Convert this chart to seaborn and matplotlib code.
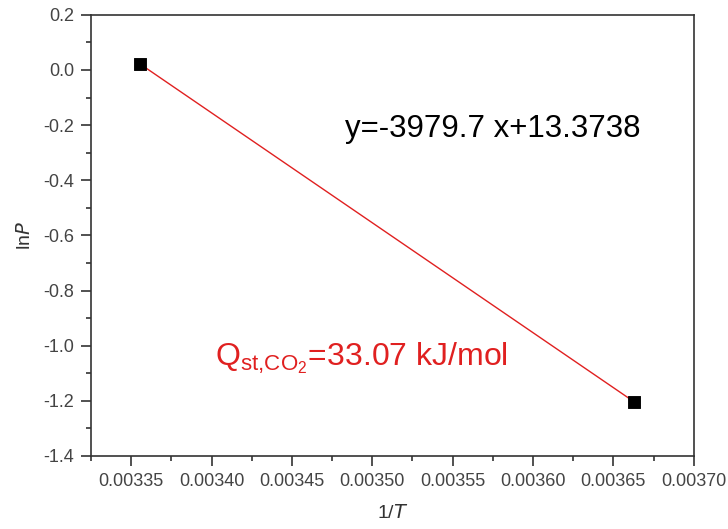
import matplotlib
matplotlib.use("Agg")
import matplotlib.pyplot as plt
import seaborn as sns
import pandas as pd
from matplotlib.ticker import MultipleLocator, FormatStrFormatter

inv_T = [0.0033557, 0.0036630]
ln_P = [0.021, -1.204]
fit_text = "y=-3979.7 x+13.3738"
q_text = r"Q$_{\mathregular{st{,}CO_2}}$=33.07 kJ/mol"

df = pd.DataFrame({"x": inv_T, "y": ln_P})

sns.set_theme(style="white")
plt.rcParams['font.family'] = ['Liberation Sans', 'DejaVu Sans']

fig = plt.figure(figsize=(7.28, 5.29), dpi=100)
ax = fig.add_axes([0.125, 0.138, 0.828, 0.834])

sns.lineplot(data=df, x="x", y="y", color="#e02020", linewidth=1.0, ax=ax)
sns.scatterplot(data=df, x="x", y="y", marker="s", color="black", s=65,
                edgecolor="black", ax=ax, zorder=5)

ax.set_xlim(0.003325, 0.0037)
ax.set_ylim(-1.4, 0.2)
ax.xaxis.set_major_locator(MultipleLocator(0.00005))
ax.xaxis.set_minor_locator(MultipleLocator(0.000025))
ax.yaxis.set_major_locator(MultipleLocator(0.2))
ax.yaxis.set_minor_locator(MultipleLocator(0.1))
ax.xaxis.set_major_formatter(FormatStrFormatter('%.5f'))
ax.yaxis.set_major_formatter(FormatStrFormatter('%.1f'))

for s in ax.spines.values():
    s.set_color("#333333")
    s.set_linewidth(1.2)

ax.tick_params(axis='both', which='major', direction='out', length=7, width=1.2,
               color="#333333", labelsize=13, labelcolor="#444444",
               bottom=True, left=True, top=False, right=False)
ax.tick_params(axis='both', which='minor', direction='out', length=3.8, width=1.2,
               color="#333333", bottom=True, left=True, top=False, right=False)
ax.tick_params(axis='x', which='major', pad=5)
ax.tick_params(axis='y', which='major', pad=5)

ax.set_xlabel(r"1/$\mathit{T}$", fontsize=14, color="#333333", labelpad=10)
ax.set_ylabel(r"ln$\mathit{P}$", fontsize=14, color="#333333", labelpad=7)

ax.text(0.667, 0.723, fit_text, transform=ax.transAxes, fontsize=22.5,
        color="black", ha="center", va="baseline")
ax.text(0.448, 0.206, q_text, transform=ax.transAxes, fontsize=23,
        color="#e02020", ha="center", va="baseline")

fig.savefig("out.png", dpi=100)
